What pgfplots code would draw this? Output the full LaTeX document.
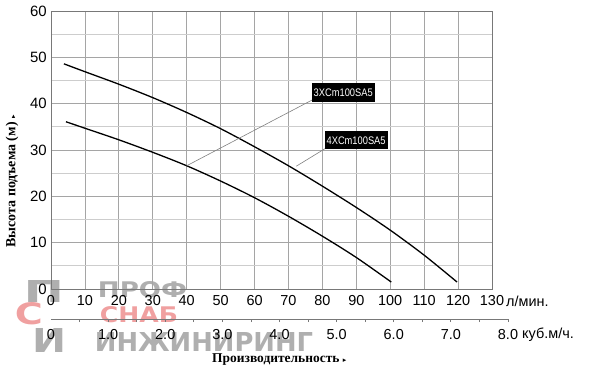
\documentclass[border=0pt]{standalone}
\usepackage{pgfplots}
\pgfplotsset{compat=1.18}
\usepackage{fontspec}
\setmainfont{Liberation Serif}
\newfontfamily\arial{Liberation Sans}
\newfontfamily\dejavu{DejaVu Sans}
\definecolor{gridmaj}{RGB}{165,165,165}
\definecolor{gridmin}{RGB}{205,205,205}
\definecolor{framec}{RGB}{120,120,120}
\definecolor{wmgray}{RGB}{175,175,175}
\definecolor{wmpink}{RGB}{240,160,160}
\begin{document}
\begin{tikzpicture}
\useasboundingbox (-51bp,-84bp) rectangle (549bp,289bp);
% watermark
\node[wmgray, inner sep=0] at (91.5bp,-1bp) {\resizebox{89bp}{16bp}{\dejavu\bfseries ПРОФ}};
\node[wmpink, inner sep=0] at (88bp,-26bp) {\resizebox{78bp}{16bp}{\dejavu\bfseries СНАБ}};
\node[wmgray, inner sep=0] at (153bp,-53bp) {\resizebox{218bp}{19bp}{\dejavu\bfseries ИНЖИНИРИНГ}};
\node[wmgray, inner sep=0] at (-7bp,-2bp) {\resizebox{40bp}{22bp}{\dejavu\bfseries П}};
\node[wmpink, inner sep=0] at (-22bp,-25bp) {\resizebox{28bp}{22bp}{\dejavu\bfseries С}};
\node[wmgray, inner sep=0] at (-1bp,-51bp) {\resizebox{34bp}{24bp}{\dejavu\bfseries И}};
\begin{axis}[
  at={(0,0)}, anchor=south west,
  scale only axis, width=441bp, height=278bp,
  xmin=0, xmax=130, ymin=0, ymax=60,
  xtick={0,10,...,130}, ytick={0,10,...,60},
  minor ytick={5,15,...,55},
  xmajorgrids, ymajorgrids, yminorgrids,
  major grid style={gridmaj, line width=0.7bp},
  minor grid style={gridmin, line width=0.7bp},
  axis line style={framec, line width=0.8bp},
  major tick length=0pt, minor tick length=0pt,
  /pgf/number format/assume math mode=true,
  xticklabel style={font=\arial\fontsize{14.5}{14.5}\selectfont, inner sep=0pt, anchor=north, yshift=-6bp},
  yticklabel style={font=\arial\fontsize{15}{15}\selectfont, inner sep=0pt, anchor=east, xshift=-4bp},
  clip=false,
]
\addplot[black, line width=1.3bp, smooth] coordinates {
(3.8,48.6) (10,46.9) (20,44.2) (30,41.3) (40,38.1) (50,34.6) (60,30.7)
(70,26.6) (80,22.2) (90,17.6) (100,12.7) (110,7.3) (119.7,1.5)};
\addplot[black, line width=1.3bp, smooth] coordinates {
(4.4,36.1) (10,34.7) (20,32.2) (30,29.5) (40,26.6) (50,23.3) (60,19.7)
(70,15.7) (80,11.4) (90,6.8) (100.3,1.5)};
\draw[gray, line width=0.6bp] (axis cs:40,26.6) -- (axis cs:77,40.8);
\draw[gray, line width=0.6bp] (axis cs:72.3,26.5) -- (axis cs:80.8,30.3);
\node[fill=black, text=white, anchor=south west, inner sep=2bp, minimum height=19bp] at (axis cs:76.8,40.3)
  {\scalebox{0.85}[1]{\arial\fontsize{11}{11}\selectfont 3XCm100SA5}};
\node[fill=black, text=white, anchor=south west, inner sep=2bp, minimum height=18bp] at (axis cs:80.6,30.1)
  {\scalebox{0.85}[1]{\arial\fontsize{11}{11}\selectfont 4XCm100SA5}};
\end{axis}
\begin{axis}[
  at={(0,-30bp)}, anchor=south west,
  scale only axis, width=457bp, height=10bp,
  xmin=0, xmax=8, ymin=0, ymax=1,
  hide y axis, axis x line=bottom,
  axis line style={-, framec, line width=0.8bp},
  xtick={0,...,8}, xticklabels={0,1.0,2.0,3.0,4.0,5.0,6.0,7.0,8.0},
  minor xtick={0.5,1,...,8},
  major tick length=0pt, minor tick length=3bp, tick align=outside,
  minor tick style={framec, line width=0.8bp},
  ticklabel style={font=\arial\fontsize{14.5}{14.5}\selectfont, inner sep=0pt},
  xticklabel style={anchor=north, yshift=-10bp},
  /pgf/number format/assume math mode=true,
]
\addplot[draw=none] coordinates {(0,0)};
\end{axis}
\node[anchor=west, inner sep=0] at (455bp,-12bp) {\arial\fontsize{14.5}{14.5}\selectfont л/мин.};
\node[anchor=west, inner sep=0] at (471bp,-46bp) {\arial\fontsize{14.5}{14.5}\selectfont куб.м/ч.};
\node[anchor=base west, inner sep=0] at (161bp,-73bp) {\bfseries\fontsize{13.5}{13.5}\selectfont Производительность {\dejavu\fontsize{7}{7}\selectfont ▸}};
\node[rotate=90, inner sep=0] at (-39bp,107.5bp) {\bfseries\fontsize{14}{14}\selectfont Высота подъема (м) {\dejavu\fontsize{7}{7}\selectfont ▸}};
\end{tikzpicture}
\end{document}
